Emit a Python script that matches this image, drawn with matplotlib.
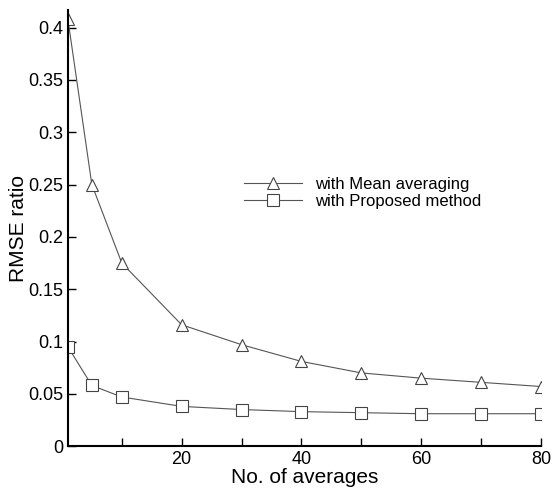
import matplotlib
matplotlib.use("Agg")
import matplotlib.pyplot as plt
from matplotlib import font_manager

# data
n_avg = [1, 5, 10, 20, 30, 40, 50, 60, 70, 80]
mean_avg = [0.408, 0.250, 0.175, 0.116, 0.097, 0.081, 0.070, 0.065, 0.061, 0.057]
proposed = [0.095, 0.058, 0.047, 0.038, 0.035, 0.033, 0.032, 0.031, 0.031, 0.031]
yticks = [0, 0.05, 0.1, 0.15, 0.2, 0.25, 0.3, 0.35, 0.4]
ytick_labels = ["0", "0.05", "0.1", "0.15", "0.2", "0.25", "0.3", "0.35", "0.4"]
xticks = [20, 40, 60, 80]
xminor = [10, 30, 50, 70]

names = {f.name for f in font_manager.fontManager.ttflist}
fam = "Liberation Sans Narrow" if "Liberation Sans Narrow" in names else "Liberation Sans"
plt.rcParams['font.family'] = [fam, 'DejaVu Sans']

fig = plt.figure(figsize=(5.52, 4.93), dpi=100)
ax = fig.add_axes([0.123, 0.095, 0.857, 0.885])

ax.plot(n_avg, mean_avg, color='#555555', lw=0.8, marker='^', ms=9,
        mfc='white', mec='#444444', mew=0.8, label='with Mean averaging')
ax.plot(n_avg, proposed, color='#555555', lw=0.8, marker='s', ms=8,
        mfc='white', mec='#444444', mew=0.8, label='with Proposed method')

ax.set_xlim(1, 80)
ax.set_ylim(0, 0.417)
ax.set_xticks(xticks)
ax.set_xticks(xminor, minor=True)
ax.set_yticks(yticks)
ax.set_yticklabels(ytick_labels)

for s in ['top', 'right']:
    ax.spines[s].set_visible(False)
for s in ['left', 'bottom']:
    ax.spines[s].set_linewidth(1.5)

ax.tick_params(direction='in', labelsize=13, length=6, width=1)
ax.tick_params(which='minor', direction='in', length=6, width=1)

ax.set_xlabel("No. of averages", fontsize=15, labelpad=0)
ax.set_ylabel("RMSE ratio", fontsize=15, labelpad=0)

ax.legend(loc='center left', bbox_to_anchor=(0.34, 0.58), frameon=False,
          fontsize=12, handlelength=3.5, handletextpad=0.8, labelspacing=0.1)

fig.savefig("out.png", dpi=100)
